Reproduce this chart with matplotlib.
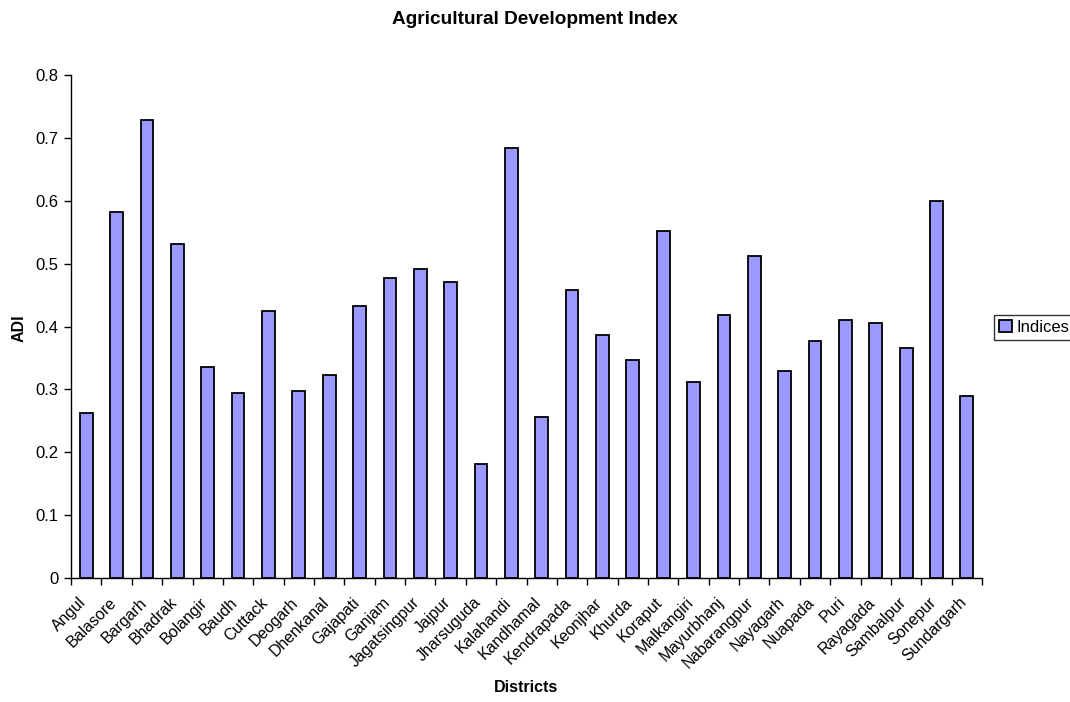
import numpy as np
import matplotlib
matplotlib.use("Agg")
from matplotlib import pyplot as plt
from matplotlib.ticker import FixedLocator
import matplotlib.transforms as mtransforms

plt.rcParams['font.family'] = ['Liberation Sans', 'DejaVu Sans']

districts = ['Angul', 'Balasore', 'Bargarh', 'Bhadrak', 'Bolangir', 'Baudh', 'Cuttack',
             'Deogarh', 'Dhenkanal', 'Gajapati', 'Ganjam', 'Jagatsingpur', 'Jajpur',
             'Jharsuguda', 'Kalahandi', 'Kandhamal', 'Kendrapada', 'Keonjhar', 'Khurda',
             'Koraput', 'Malkangiri', 'Mayurbhanj', 'Nabarangpur', 'Nayagarh', 'Nuapada',
             'Puri', 'Rayagada', 'Sambalpur', 'Sonepur', 'Sundargarh']
indices = [0.262, 0.582, 0.728, 0.531, 0.336, 0.295, 0.424,
           0.298, 0.323, 0.432, 0.477, 0.491, 0.470,
           0.181, 0.684, 0.256, 0.458, 0.386, 0.347,
           0.552, 0.312, 0.418, 0.512, 0.330, 0.377,
           0.411, 0.406, 0.366, 0.599, 0.289]
yticks = [0, 0.1, 0.2, 0.3, 0.4, 0.5, 0.6, 0.7, 0.8]
ytick_labels = ['0', '0.1', '0.2', '0.3', '0.4', '0.5', '0.6', '0.7', '0.8']

fig = plt.figure(figsize=(10.7, 7.02), dpi=100)
ax = fig.add_axes([0.0664, 0.1766, 0.8514, 0.7166])

x = np.arange(len(districts))
ax.bar(x, indices, width=0.42, color='#9999FF', edgecolor='black', linewidth=1.3,
       label='Indices')

ax.set_xlim(-0.5, len(districts) - 0.5)
ax.set_ylim(0, 0.8)

# ticks between categories, labels centred under bars
ax.xaxis.set_major_locator(FixedLocator(x))
ax.xaxis.set_minor_locator(FixedLocator(np.arange(len(districts) + 1) - 0.5))
ax.set_xticklabels(districts, rotation=45, ha='right', rotation_mode='anchor', fontsize=11.5)
ax.tick_params(axis='x', which='major', length=0, pad=7)
ax.tick_params(axis='x', which='minor', length=5, direction='out', width=1)
# nudge labels down-left like the original
shift = mtransforms.ScaledTranslation(-0.08, -0.07, fig.dpi_scale_trans)
for lbl in ax.get_xticklabels():
    lbl.set_transform(lbl.get_transform() + shift)
ax.set_yticks(yticks)
ax.set_yticklabels(ytick_labels)
ax.tick_params(axis='y', length=5, direction='out', labelsize=12, width=1, pad=4)

for s in ['top', 'right']:
    ax.spines[s].set_visible(False)
for s in ['left', 'bottom']:
    ax.spines[s].set_linewidth(1)

fig.text(0.5, 0.966, 'Agricultural Development Index', ha='center', va='baseline',
         fontsize=13.7, fontweight='bold')
fig.text(0.492, 0.02, 'Districts', ha='center', va='center', fontsize=11.5, fontweight='bold')
fig.text(0.018, 0.533, 'ADI', ha='center', va='center', rotation=90, fontsize=11.5,
         fontweight='bold')

leg = fig.legend(loc='center left', bbox_to_anchor=(0.929, 0.534), frameon=True,
                 fancybox=False, edgecolor='black', fontsize=12, handlelength=0.75,
                 handleheight=0.75, handletextpad=0.3, borderpad=0.3, borderaxespad=0)
leg.get_frame().set_linewidth(1)

fig.savefig('out.png', dpi=100)
